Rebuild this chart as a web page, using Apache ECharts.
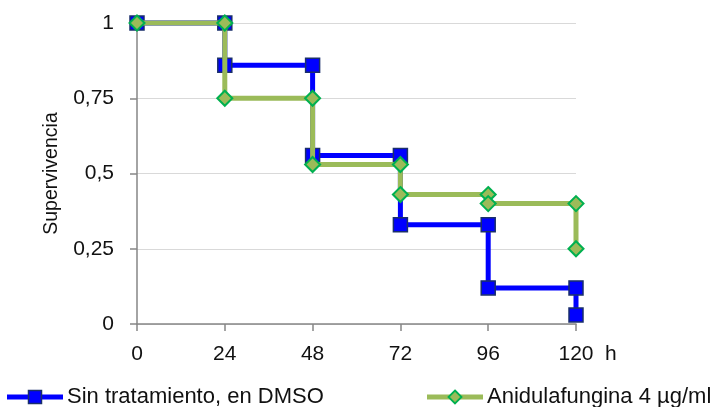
<!DOCTYPE html>
<html>
<head>
<meta charset="utf-8">
<script src="https://cdn.jsdelivr.net/npm/echarts@6/dist/echarts.min.js"></script>
<style>
  html, body { margin: 0; padding: 0; background: #fff; }
  #chart { width: 715px; height: 407px; }
</style>
</head>
<body>
<div id="chart"></div>
<script>
// Survival curves: each drop is stored as two points at the same hour
const hours = [0, 24, 24, 48, 48, 72, 72, 96, 96, 120, 120];
const sinTratamiento = [1, 1, 0.86, 0.86, 0.56, 0.56, 0.33, 0.33, 0.12, 0.12, 0.03];
const anidulafungina = [1, 1, 0.75, 0.75, 0.53, 0.53, 0.43, 0.43, 0.40, 0.40, 0.25];

const seriesNames = ['Sin tratamiento, en DMSO', 'Anidulafungina 4 µg/ml'];
const xTicks = [0, 24, 48, 72, 96, 120];
const yTickLabels = { 0: '0', 0.25: '0,25', 0.5: '0,5', 0.75: '0,75', 1: '1' };

const FONT = "'Liberation Sans', Arial, sans-serif";
const TEXT = '#111';

const BLUE = '#0000FF', BLUE_EDGE = '#1A2F6B';
const GREEN = '#9BBB59', GREEN_EDGE = '#00B050';

const pairs = (xs, ys) => xs.map((x, i) => [x, ys[i]]);

// Legend keys: a thick line with the series marker in the middle
const svgIcon = svg => 'image://data:image/svg+xml;charset=utf-8,' + encodeURIComponent(svg);
const blueKey = svgIcon(
  '<svg xmlns="http://www.w3.org/2000/svg" width="56" height="16" viewBox="0 0 56 16">' +
  '<line x1="0" y1="8" x2="56" y2="8" stroke="' + BLUE + '" stroke-width="5" stroke-linecap="round"/>' +
  '<rect x="21.5" y="1.5" width="13" height="13" fill="' + BLUE + '" stroke="' + BLUE_EDGE + '" stroke-width="1.5"/>' +
  '</svg>');
const greenKey = svgIcon(
  '<svg xmlns="http://www.w3.org/2000/svg" width="56" height="16" viewBox="0 0 56 16">' +
  '<line x1="0" y1="8" x2="56" y2="8" stroke="' + GREEN + '" stroke-width="5" stroke-linecap="round"/>' +
  '<path d="M28 1.5 L34.5 8 L28 14.5 L21.5 8 Z" fill="' + GREEN + '" stroke="' + GREEN_EDGE + '" stroke-width="1.8"/>' +
  '</svg>');

const chart = echarts.init(document.getElementById('chart'), null, { renderer: 'canvas' });

chart.setOption({
  animation: false,
  backgroundColor: '#fff',
  textStyle: { fontFamily: FONT, color: TEXT },
  grid: { left: 137, right: 139, top: 23, bottom: 83, containLabel: false },
  legend: [
    {
      data: [{ name: seriesNames[0], icon: blueKey }],
      left: 7, top: 386, padding: 0,
      itemWidth: 56, itemHeight: 16,
      textStyle: { fontFamily: FONT, fontSize: 22, color: TEXT, padding: [0, 0, 0, -1] }
    },
    {
      data: [{ name: seriesNames[1], icon: greenKey }],
      left: 427, top: 386, padding: 0,
      itemWidth: 56, itemHeight: 16,
      textStyle: { fontFamily: FONT, fontSize: 22, color: TEXT, padding: [0, 0, 0, -1] }
    }
  ],
  xAxis: {
    type: 'value',
    min: xTicks[0], max: xTicks[xTicks.length - 1], interval: 24,
    name: 'h', nameLocation: 'end', nameGap: 29,
    nameTextStyle: { fontFamily: FONT, fontSize: 21, color: TEXT, align: 'left', verticalAlign: 'top', padding: [20, 0, 0, 0] },
    axisLine: { lineStyle: { color: '#868686', width: 1.5 } },
    axisTick: { show: true, length: 7, lineStyle: { color: '#868686', width: 1.5 } },
    axisLabel: { fontFamily: FONT, fontSize: 21, color: TEXT, margin: 20 },
    splitLine: { show: false }
  },
  yAxis: {
    type: 'value',
    min: 0, max: 1, interval: 0.25,
    name: 'Supervivencia', nameLocation: 'middle', nameGap: 75,
    nameTextStyle: { fontFamily: FONT, fontSize: 19.5, color: TEXT },
    axisLine: { show: true, lineStyle: { color: '#868686', width: 1.5 } },
    axisTick: { show: true, length: 7, lineStyle: { color: '#868686', width: 1.5 } },
    axisLabel: {
      fontFamily: FONT, fontSize: 21, color: TEXT, margin: 23,
      formatter: v => yTickLabels[v] !== undefined ? yTickLabels[v] : String(v).replace('.', ',')
    },
    splitLine: { show: true, lineStyle: { color: '#D9D9D9', width: 1 } }
  },
  series: [
    {
      name: seriesNames[0],
      type: 'line',
      data: pairs(hours, sinTratamiento),
      clip: false,
      symbol: 'rect', symbolSize: 14,
      lineStyle: { color: BLUE, width: 5 },
      itemStyle: { color: BLUE, borderColor: BLUE_EDGE, borderWidth: 1.5 },
      z: 2
    },
    {
      name: seriesNames[1],
      type: 'line',
      data: pairs(hours, anidulafungina),
      clip: false,
      symbol: 'diamond', symbolSize: 15,
      lineStyle: { color: GREEN, width: 5 },
      itemStyle: { color: GREEN, borderColor: GREEN_EDGE, borderWidth: 2 },
      z: 3
    }
  ]
});
</script>
</body>
</html>
